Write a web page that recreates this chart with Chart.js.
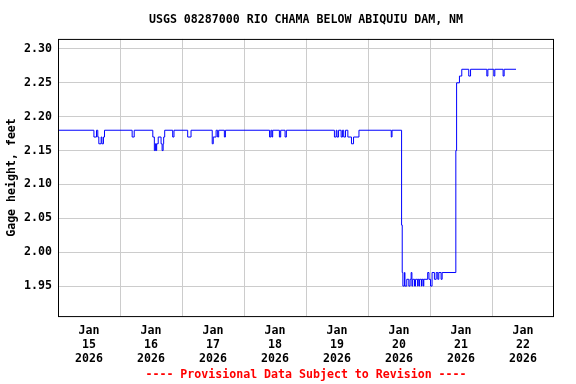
<!DOCTYPE html>
<html>
<head>
<meta charset="utf-8">
<script src="https://cdn.jsdelivr.net/npm/chart.js@4"></script>
<style>
  body { margin: 0; background: #fff; }
  canvas { display: block; }
</style>
</head>
<body>
<canvas id="gage-chart" width="576" height="384"></canvas>
<script>
// horas desde 15 jan 2026 00:00 e altura (ft)
const hours = [
  0, 13.9, 14.9, 15.4, 15.8, 16.7, 17.0, 17.6, 18.0,
  28.7, 29.5,
  36.7, 37.3, 37.7, 38.0, 38.2, 38.8, 39.9, 40.3, 40.7, 40.9, 41.3,
  44.4, 44.9, 50.2, 51.5,
  59.7, 60.1, 61.2, 61.8, 62.2, 64.4, 64.8,
  81.9, 82.4, 82.8, 83.1, 85.7, 86.2, 87.9, 88.4,
  107.0, 107.7, 108.0, 108.6, 109.6, 110.1, 110.6, 111.3, 112.2, 113.6, 114.4, 116.5,
  129.0, 129.3,
  133.0, 133.25, 133.5, 134.1, 134.3, 135.0, 135.8, 136.3, 136.7, 137.0, 137.3,
  138.0, 138.4, 139.2, 139.4, 139.8, 140.0, 140.7, 140.9, 141.4, 141.6,
  143.1, 143.6, 144.2, 144.8, 145.7, 146.4, 147.0, 147.4, 148.3, 148.7,
  154.0, 154.3, 155.4, 156.3,
  159.0, 159.7, 166.0, 166.4, 168.7, 169.1, 172.3, 172.7, 177.3
];
const gageHeight = [
  2.18, 2.17, 2.18, 2.17, 2.16, 2.17, 2.16, 2.17, 2.18,
  2.17, 2.18,
  2.17, 2.15, 2.16, 2.15, 2.16, 2.17, 2.16, 2.15, 2.16, 2.17, 2.18,
  2.17, 2.18, 2.17, 2.18,
  2.16, 2.17, 2.18, 2.17, 2.18, 2.17, 2.18,
  2.17, 2.18, 2.17, 2.18, 2.17, 2.18, 2.17, 2.18,
  2.17, 2.18, 2.17, 2.18, 2.17, 2.18, 2.17, 2.18, 2.17, 2.16, 2.17, 2.18,
  2.17, 2.18,
  2.04, 1.97, 1.95, 1.97, 1.95, 1.96, 1.95, 1.96, 1.97, 1.95, 1.96,
  1.95, 1.96, 1.95, 1.96, 1.95, 1.96, 1.95, 1.96, 1.95, 1.96,
  1.97, 1.96, 1.95, 1.97, 1.96, 1.97, 1.96, 1.97, 1.96, 1.97,
  2.15, 2.25, 2.26, 2.27,
  2.26, 2.27, 2.26, 2.27, 2.26, 2.27, 2.26, 2.27, 2.27
];
const yTicks = [1.95, 2.00, 2.05, 2.10, 2.15, 2.20, 2.25, 2.30];
const dayLabels = ['15', '16', '17', '18', '19', '20', '21', '22'];

const monoFont = { family: '"DejaVu Sans Mono", monospace', size: 11.6, weight: 'bold' };

// moldura preta em volta da área do gráfico
const frame = {
  id: 'frame',
  afterDraw(chart) {
    const a = chart.chartArea;
    const ctx = chart.ctx;
    ctx.save();
    ctx.strokeStyle = '#000';
    ctx.lineWidth = 1;
    ctx.strokeRect(a.left + 0.5, a.top + 0.5, a.right - a.left - 1, a.bottom - a.top);
    ctx.restore();
  }
};

Chart.defaults.color = '#000';
Chart.defaults.font = monoFont;

new Chart(document.getElementById('gage-chart'), {
  type: 'line',
  data: {
    datasets: [{
      data: hours.map((h, i) => ({ x: h, y: gageHeight[i] })),
      borderColor: '#0000ff',
      borderWidth: 1,
      pointRadius: 0,
      stepped: true,
      fill: false
    }]
  },
  options: {
    responsive: false,
    animation: false,
    layout: { padding: { left: 0, right: 22, top: 0, bottom: 0 } },
    plugins: {
      legend: { display: false },
      tooltip: { enabled: false },
      title: {
        display: true,
        fullSize: false,
        text: 'USGS 08287000 RIO CHAMA BELOW ABIQUIU DAM, NM',
        font: monoFont,
        color: '#000',
        padding: { top: 13, bottom: 12 }
      },
      subtitle: {
        display: true,
        fullSize: false,
        position: 'bottom',
        text: '---- Provisional Data Subject to Revision ----',
        font: monoFont,
        color: '#ff0000',
        padding: { top: 2, bottom: 2 }
      }
    },
    scales: {
      x: {
        type: 'linear',
        min: 0,
        max: 192,
        afterBuildTicks(scale) {
          const t = [];
          for (let h = 0; h <= 192; h += 12) t.push({ value: h });
          scale.ticks = t;
        },
        afterFit(scale) { scale.height = 50; },
        grid: {
          drawTicks: false,
          color: ctx => (ctx.tick && ctx.tick.value % 24 === 0 && ctx.tick.value > 0 && ctx.tick.value < 192) ? '#cccccc' : 'rgba(0,0,0,0)'
        },
        border: { display: false },
        ticks: {
          autoSkip: false,
          maxRotation: 0,
          padding: 8,
          font: monoFont,
          callback: v => (v % 24 === 12) ? ['Jan', dayLabels[(v - 12) / 24], '2026'] : ''
        }
      },
      y: {
        min: 1.9057,
        max: 2.3148,
        afterBuildTicks(scale) {
          scale.ticks = yTicks.map(v => ({ value: v }));
        },
        afterFit(scale) { scale.width = 58; },
        grid: { drawTicks: false, color: '#cccccc' },
        border: { display: false },
        ticks: {
          padding: 6,
          font: monoFont,
          callback: v => v.toFixed(2)
        },
        title: {
          display: true,
          text: 'Gage height, feet',
          font: monoFont,
          padding: { top: 5, bottom: 0 }
        }
      }
    }
  },
  plugins: [frame]
});
</script>
</body>
</html>
